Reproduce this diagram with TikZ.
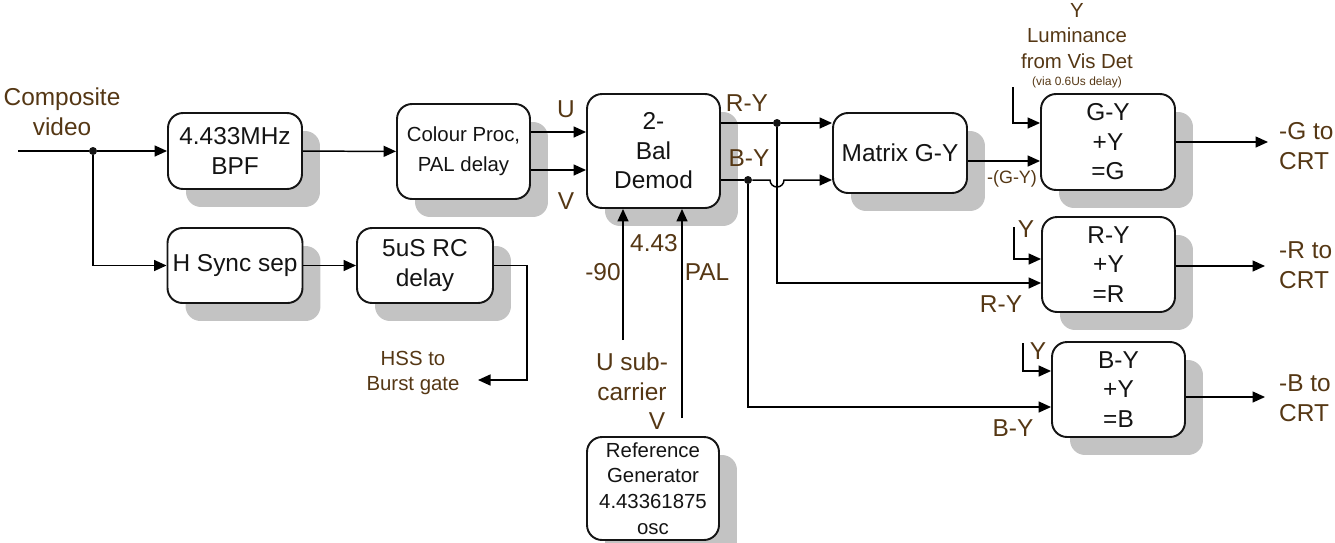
\documentclass[tikz,border=0pt]{standalone}
\usepackage{fontspec}
\setmainfont{Liberation Sans}
\usepackage{xcolor}
\definecolor{textcolor}{RGB}{20,20,20}
\definecolor{labelcolor}{RGB}{85,55,20}
\definecolor{shadecolor}{RGB}{195,195,195}
\usetikzlibrary{arrows.meta,shadows}

\begin{document}
\begin{tikzpicture}[x=0.02cm, y=-0.02cm,
  every node/.style={color=textcolor, font=\fontsize{13.9}{16.8}\selectfont},
  blk/.style={draw, line width=1.1pt, rounded corners=0.3cm, fill=white, align=center, inner sep=0pt,
    drop shadow={shadow xshift=0.36cm, shadow yshift=-0.36cm, fill=shadecolor, opacity=1}},
  sig/.style={line width=0.85pt, -{Triangle[length=0.25cm, width=0.22cm]}},
  wire/.style={line width=0.85pt},
  lbl/.style={color=labelcolor, align=center},
  small/.style={font=\fontsize{11.6}{14.6}\selectfont},
  dot/.style={circle, fill=textcolor, inner sep=0pt, minimum size=0.16cm}]
  \useasboundingbox (0,0) rectangle (1335,542);

  \node[blk, minimum width=2.68cm, minimum height=1.52cm] (bpf) at (235,151) {4.433MHz\\BPF};
  \node[blk, minimum width=2.66cm, minimum height=1.9cm, font=\fontsize{11.6}{17}\selectfont] (cproc) at (463.5,151.5) {Colour Proc,\\PAL delay};
  \node[blk, minimum width=2.66cm, minimum height=2.28cm] (demod) at (653.5,151) {2-\\Bal\\Demod};
  \node[blk, minimum width=2.7cm, minimum height=1.5cm] (hsync) at (235,265.5) {H Sync sep};
  \node[blk, minimum width=2.72cm, minimum height=1.5cm] (rcdel) at (425,265.5) {5uS RC\\delay};
  \node[blk, small, minimum width=2.64cm, minimum height=2.06cm] (refgen) at (653,488.5) {Reference\\Generator\\4.43361875\\osc};
  \node[blk, minimum width=2.68cm, minimum height=1.6cm] (matrix) at (900,153) {Matrix G-Y};
  \node[blk, minimum width=2.68cm, minimum height=1.92cm] (gadd) at (1108,142) {G-Y\\+Y\\=G};
  \node[blk, minimum width=2.66cm, minimum height=1.9cm] (radd) at (1108.5,264.5) {R-Y\\+Y\\=R};
  \node[blk, minimum width=2.66cm, minimum height=1.9cm] (badd) at (1118.5,389.5) {B-Y\\+Y\\=B};

  \node[lbl] (comp) at (62,112) {Composite\\video};
  \coordinate (vin) at (18,151);
  \node[dot] (split) at (93,151) {};
  \draw[wire] (vin) -- (split);
  \draw[sig] (split) -- (bpf);
  \draw[sig] (split) |- (hsync);
  \draw[sig] (bpf) -- (cproc);
  \draw[sig] (hsync) -- (rcdel);

  \node[lbl, small] (hss) at (413,373) {HSS to\\Burst gate};
  \coordinate (hsscorner) at (527,380);
  \coordinate (hssin) at (478,380);
  \draw[sig] (rcdel.east) -| (hsscorner) -- (hssin);

  \coordinate (ulev) at (0,132);
  \coordinate (vlev) at (0,170);
  \draw[sig] (cproc.east |- ulev) -- (demod.west |- ulev);
  \draw[sig] (cproc.east |- vlev) -- (demod.west |- vlev);
  \node[lbl] (ulbl) at (566,109) {U};
  \node[lbl] (vlbl) at (566,201) {V};

  \coordinate (m90) at (623,340);
  \coordinate (palbot) at (682,418);
  \draw[sig] (m90) -- (demod.south -| m90);
  \draw[sig] (palbot) -- (demod.south -| palbot);
  \node[lbl] (freq) at (654,243) {4.43};
  \node[lbl] (ninety) at (603,272) {-90};
  \node[lbl] (pal) at (707,272) {PAL};
  \node[lbl] (usub) at (632,377) {U sub-\\carrier};
  \node[lbl] (vsub) at (657,421) {V};

  \coordinate (rylev) at (0,123);
  \coordinate (bylev) at (0,180);
  \node[dot] (rydot) at (777,123) {};
  \node[dot] (bydot) at (748,180) {};
  \draw[wire] (demod.east |- rylev) -- (rydot);
  \draw[sig] (rydot) -- (matrix.west |- rylev);
  \draw[wire] (demod.east |- bylev) -- (bydot);
  \coordinate (hopl) at (770,180);
  \draw[sig] (bydot) -- (hopl) arc[start angle=180, end angle=360, radius=0.14cm] -- (matrix.west |- bylev);
  \node[lbl] (rylbl) at (747,103) {R-Y};
  \node[lbl] (bylbl) at (749,158) {B-Y};

  \coordinate (rrlev) at (0,283);
  \coordinate (bblev) at (0,407);
  \draw[sig] (rydot) |- (radd.west |- rrlev);
  \draw[sig] (bydot) |- (badd.west |- bblev);
  \node[lbl] (rrlbl) at (1001,304) {R-Y};
  \node[lbl] (bblbl) at (1013,428) {B-Y};

  \coordinate (gylev) at (0,161);
  \draw[sig] (matrix.east |- gylev) -- (gadd.west |- gylev);
  \node[lbl, font=\fontsize{10.2}{12}\selectfont] (gylbl) at (1012,179) {-(G-Y)};

  \node[lbl, small] (lum) at (1077,36) {Y\\Luminance\\from Vis Det};
  \node[lbl, font=\fontsize{6.8}{8}\selectfont] (via) at (1077,82) {(via 0.6Us delay)};
  \coordinate (lumtop) at (1013,87);
  \coordinate (gyin) at (0,123);
  \draw[sig] (lumtop) |- (gadd.west |- gyin);

  \coordinate (rytop) at (1014,227);
  \coordinate (ryin) at (0,259);
  \draw[sig] (rytop) |- (radd.west |- ryin);
  \node[lbl] (ry) at (1026,229) {Y};

  \coordinate (bytop) at (1023,343);
  \coordinate (byin) at (0,371);
  \draw[sig] (bytop) |- (badd.west |- byin);
  \node[lbl] (by) at (1038,351) {Y};

  \coordinate (gout) at (1268,142);
  \coordinate (rout) at (1265,266);
  \coordinate (bout) at (1265,397);
  \draw[sig] (gadd) -- (gout);
  \draw[sig] (radd.east |- rout) -- (rout);
  \draw[sig] (badd.east |- bout) -- (bout);
  \node[lbl, anchor=west, align=left] (glbl) at (1273,146) {-G to\\CRT};
  \node[lbl, anchor=west, align=left] (rlbl) at (1273,265) {-R to\\CRT};
  \node[lbl, anchor=west, align=left] (blbl) at (1273,398) {-B to\\CRT};
\end{tikzpicture}
\end{document}
